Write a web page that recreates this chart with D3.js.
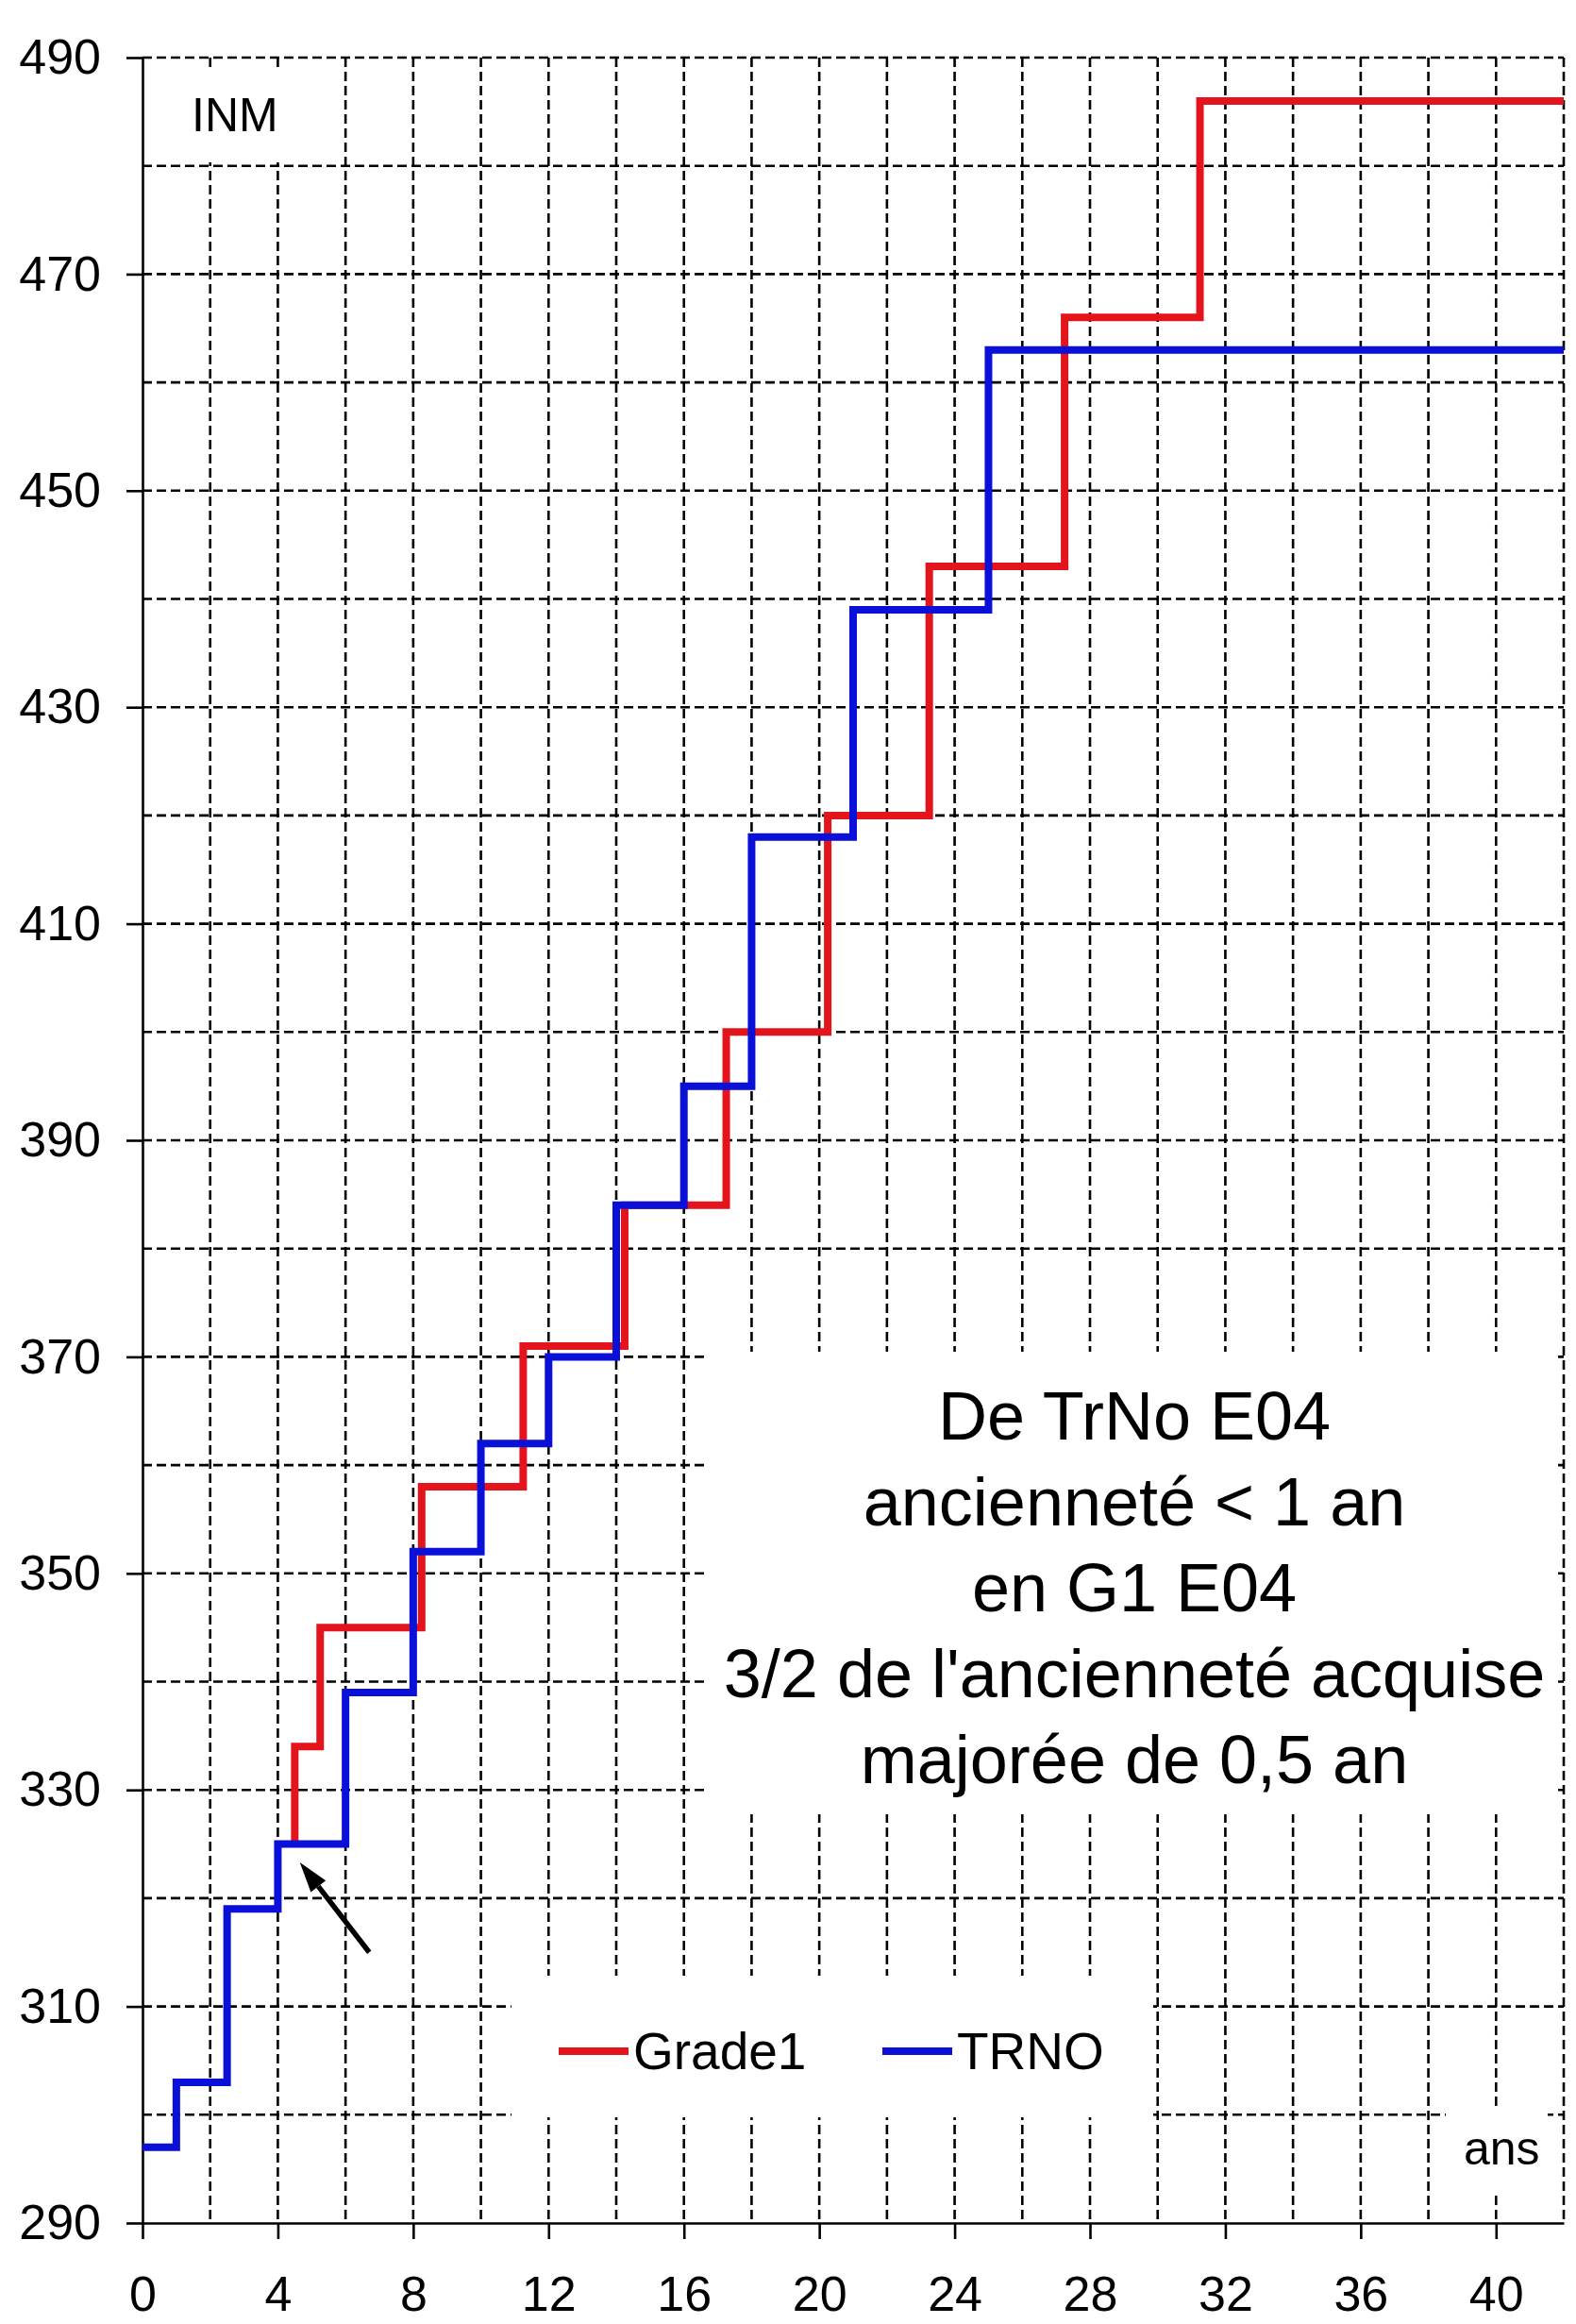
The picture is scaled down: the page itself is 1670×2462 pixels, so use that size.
<!DOCTYPE html>
<html>
<head>
<meta charset="utf-8">
<script src="https://cdn.jsdelivr.net/npm/d3@7"></script>
<style>
body { margin: 0; background: #fff; }
svg text { font-family: "Liberation Sans", Arial, sans-serif; fill: #000; }
</style>
</head>
<body>
<div class="chart"></div>
<script>
// values (years of seniority -> INM index)
var trnoYears = [0, 1, 2.5, 4, 6, 8, 10, 12, 14, 16, 18, 21, 25, 42];
var trnoInm = [297, 303, 319, 325, 339, 352, 362, 370, 384, 395, 418, 439, 463, 463];
var grade1Years = [4.5, 4.5, 5.25, 8.25, 11.25, 14.25, 17.25, 20.25, 23.25, 27.25, 31.25, 42];
var grade1Inm = [325, 334, 345, 358, 371, 384, 400, 420, 443, 466, 486, 486];

var xTickLabels = [0, 4, 8, 12, 16, 20, 24, 28, 32, 36, 40];
var yTickLabels = [290, 310, 330, 350, 370, 390, 410, 430, 450, 470, 490];
var seriesNames = ['Grade1', 'TRNO'];
var seriesColors = ['#e3141b', '#0a10d8'];
var noteLines = ['De TrNo E04', 'ancienneté < 1 an', 'en G1 E04', "3/2 de l'ancienneté acquise", 'majorée de 0,5 an'];

// arrow pointing at the switch point (data coords)
var arrowFrom = [6.7, 315];
var arrowTo = [4.65, 323.3];

var width = 1670, height = 2462;
// plot edges ('top' is taken by window.top, so prefixed names)
var plotLeft = 151, plotRight = 1657, plotTop = 61, plotBottom = 2355;

var svg = d3.select('.chart')
.append('svg')
.attr('width', width)
.attr('height', height)
.style('display', 'block');

svg.append('rect').attr('width', width).attr('height', height).attr('fill', '#fff');

var x = d3.scaleLinear().domain([0, 42]).range([plotLeft, plotRight]);
var y = d3.scaleLinear().domain([290, 490]).range([plotBottom, plotTop]);

// dashed grid
var grid = svg.append('g').attr('stroke', '#000').attr('stroke-width', 2.6).attr('stroke-dasharray', '10,5');
grid.selectAll('.vg').data(d3.range(2, 43, 2)).enter().append('line')
.attr('x1', function(d) { return x(d); }).attr('x2', function(d) { return x(d); })
.attr('y1', y(490)).attr('y2', y(290));
grid.selectAll('.hg').data(d3.range(300, 491, 10)).enter().append('line')
.attr('y1', function(d) { return y(d); }).attr('y2', function(d) { return y(d); })
.attr('x1', x(0)).attr('x2', x(42));

// white boxes behind the texts hide the grid
var boxes = [[190, 74, 110, 98], [750, 1432, 900, 490], [542, 2093, 680, 150], [1532, 2236, 108, 86]];
svg.selectAll('.box').data(boxes).enter().append('rect')
.attr('x', function(d) { return d[0]; }).attr('y', function(d) { return d[1]; })
.attr('width', function(d) { return d[2]; }).attr('height', function(d) { return d[3]; })
.attr('fill', '#fff');

// axes
var yAxis = svg.append('g').attr('transform', 'translate(' + plotLeft + ',0)')
.call(d3.axisLeft(y).tickValues(yTickLabels).tickSize(17).tickSizeOuter(0).tickPadding(27));
var xAxis = svg.append('g').attr('transform', 'translate(0,' + plotBottom + ')')
.call(d3.axisBottom(x).tickValues(xTickLabels).tickSize(17).tickSizeOuter(0).tickPadding(39));
[yAxis, xAxis].forEach(function(a) {
  a.select('.domain').attr('stroke', '#000').attr('stroke-width', 2.6);
  a.selectAll('.tick line').attr('stroke', '#000').attr('stroke-width', 2.6);
  a.selectAll('.tick text').attr('font-size', 52).attr('font-family', '"Liberation Sans", Arial, sans-serif');
});

// step lines, red under blue
var line = d3.line()
.x(function(d) { return x(d[0]); })
.y(function(d) { return y(d[1]); })
.curve(d3.curveStepAfter);

var series = [d3.zip(grade1Years, grade1Inm), d3.zip(trnoYears, trnoInm)];
series.forEach(function(pts, i) {
  svg.append('path')
  .attr('d', line(pts))
  .attr('fill', 'none')
  .attr('stroke', seriesColors[i])
  .attr('stroke-width', 8)
  .attr('stroke-linejoin', 'miter');
});

// arrow
var ax1 = x(arrowFrom[0]), ay1 = y(arrowFrom[1]);
var ax2 = x(arrowTo[0]), ay2 = y(arrowTo[1]);
var ang = Math.atan2(ay2 - ay1, ax2 - ax1);
var headLen = 32, headHalf = 10;
var bx = ax2 - headLen * Math.cos(ang), by = ay2 - headLen * Math.sin(ang);
svg.append('line')
.attr('x1', ax1).attr('y1', ay1).attr('x2', bx).attr('y2', by)
.attr('stroke', '#000').attr('stroke-width', 5.5);
svg.append('polygon')
.attr('points', [
  [ax2, ay2],
  [bx + headHalf * Math.sin(ang), by - headHalf * Math.cos(ang)],
  [bx - headHalf * Math.sin(ang), by + headHalf * Math.cos(ang)]
].join(' '))
.attr('fill', '#000');

// labels
svg.append('text').attr('x', 203).attr('y', 139).attr('font-size', 50).text('INM');
svg.append('text').attr('x', 1551).attr('y', 2293).attr('font-size', 50).text('ans');

svg.selectAll('.note').data(noteLines).enter().append('text')
.attr('x', 1202)
.attr('y', function(d, i) { return 1525 + i * 91; })
.attr('text-anchor', 'middle')
.attr('font-size', 72)
.text(function(d) { return d; });

// legend
var legendX = [592, 935];
seriesNames.forEach(function(name, i) {
  svg.append('line')
  .attr('x1', legendX[i]).attr('x2', legendX[i] + 74)
  .attr('y1', 2173).attr('y2', 2173)
  .attr('stroke', seriesColors[i]).attr('stroke-width', 8);
  svg.append('text')
  .attr('x', legendX[i] + 79).attr('y', 2192)
  .attr('font-size', 55)
  .text(name);
});
</script>
</body>
</html>
